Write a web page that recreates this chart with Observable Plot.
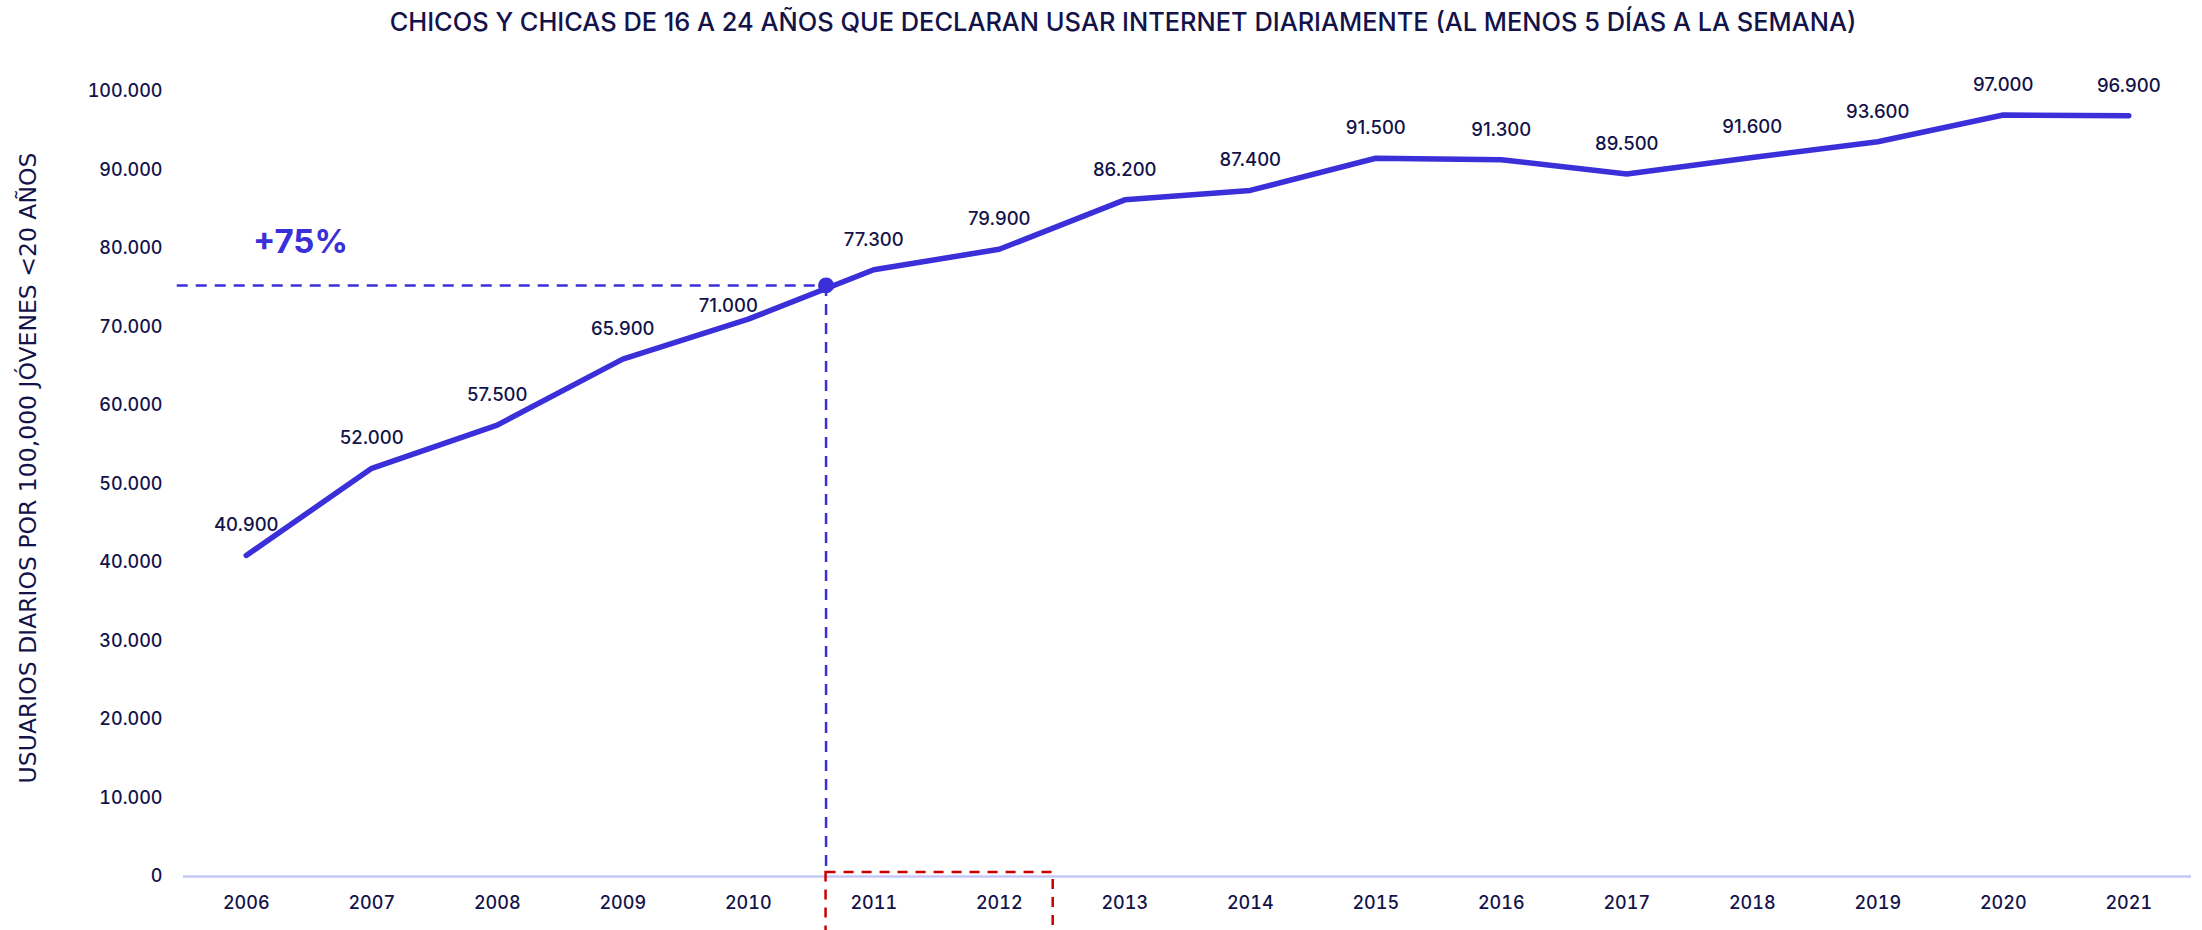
<!DOCTYPE html>
<html>
<head>
<meta charset="utf-8">
<script src="https://cdn.jsdelivr.net/npm/d3@7"></script>
<script src="https://cdn.jsdelivr.net/npm/@observablehq/plot@0.6"></script>
<style>
  html, body { margin: 0; padding: 0; background: #fff; }
  #title { height: 44px; line-height: 44px; font-family: Inter, "Noto Sans", sans-serif; font-weight: 500;
           font-size: 25.4px; color: #13134a; text-align: center; padding-left: 44px; white-space: nowrap; }
</style>
</head>
<body>
<div id="title">CHICOS Y CHICAS DE 16 A 24 AÑOS QUE DECLARAN USAR INTERNET DIARIAMENTE (AL MENOS 5 DÍAS A LA SEMANA)</div>
<div id="chart"></div>
<script>
const years = [2006, 2007, 2008, 2009, 2010, 2011, 2012, 2013, 2014, 2015, 2016, 2017, 2018, 2019, 2020, 2021];
const users = [40900, 52000, 57500, 65900, 71000, 77300, 79900, 86200, 87400, 91500, 91300, 89500, 91600, 93600, 97000, 96900];
const yTicks = [0, 10000, 20000, 30000, 40000, 50000, 60000, 70000, 80000, 90000, 100000];
const yAxisLabel = "USUARIOS DIARIOS POR 100,000 JÓVENES <20 AÑOS";
const highlightYear = 2010.62;
const highlightValue = 75300;
const highlightStartYear = 2005.45;
const highlightText = "+75%";
const boxYears = [2010.62, 2012.43];
const boxTop = 500;
const boxBottom = -9000;

const data = years.map((y, i) => ({year: y, value: users[i]}));
const fmt = d => d === 0 ? "0" : d3.format(",")(d).replace(/,/g, ".");
const ink = "#13134a";
const blue = "#3a2fd8";

const chart = Plot.plot({
  width: 2202,
  height: 886,
  marginTop: 47,
  marginBottom: 54,
  marginLeft: 183,
  marginRight: 11,
  style: {fontFamily: "Inter, 'Noto Sans', sans-serif", color: ink, background: "#fff", overflow: "visible"},
  x: {domain: [2005.5, 2021.5], ticks: years, tickFormat: d => String(d), tickSize: 0, tickPadding: 20, label: null},
  y: {domain: [0, 100000], ticks: yTicks, tickFormat: fmt, tickSize: 0, tickPadding: 21, label: null},
  marks: [
    Plot.axisX({ticks: years, tickFormat: d => String(d), tickSize: 0, tickPadding: 20, fontSize: 18, fontWeight: 500, fill: ink, label: null}),
    Plot.axisY({ticks: yTicks, tickFormat: fmt, tickSize: 0, tickPadding: 21, fontSize: 18, fontWeight: 500, fill: ink, label: null}),
    Plot.ruleY([0], {stroke: "#c5c8f7", strokeWidth: 2.5}),
    Plot.rect([{x1: boxYears[0], x2: boxYears[1], y1: boxBottom, y2: boxTop}],
      {x1: "x1", x2: "x2", y1: "y1", y2: "y2", fill: "none", stroke: "#c80000", strokeWidth: 2.5, strokeDasharray: "10,8"}),
    Plot.ruleY([highlightValue], {x1: highlightStartYear, x2: highlightYear, stroke: blue, strokeWidth: 2.5, strokeDasharray: "11,8"}),
    Plot.ruleX([highlightYear], {y1: highlightValue, y2: boxTop, stroke: blue, strokeWidth: 2.5, strokeDasharray: "11,8"}),
    Plot.line(data, {x: "year", y: "value", stroke: blue, strokeWidth: 5.5, strokeLinecap: "round", strokeLinejoin: "round"}),
    Plot.dot([{x: highlightYear, y: highlightValue}], {x: "x", y: "y", r: 8, fill: blue, stroke: "none"}),
    Plot.text(data.filter(d => d.year !== 2010), {x: "year", y: "value", text: d => fmt(d.value), dy: -30, fontSize: 18.5, fontWeight: 500, fill: ink}),
    Plot.text(data.filter(d => d.year === 2010), {x: "year", y: "value", text: d => fmt(d.value), dx: -20, dy: -13, fontSize: 18.5, fontWeight: 500, fill: ink}),
    Plot.text([highlightText], {frameAnchor: "top-left", dx: 117, dy: 151, textAnchor: "middle", lineAnchor: "middle", text: d => d, fontSize: 33, fontWeight: 700, fill: blue}),
    Plot.text([yAxisLabel], {frameAnchor: "left", dx: -155, dy: -16, rotate: -90, textAnchor: "middle", lineAnchor: "middle", text: d => d, fontSize: 23.5, fontFamily: "'DejaVu Sans', sans-serif", fill: ink})
  ]
});
document.getElementById("chart").appendChild(chart);
</script>
</body>
</html>
